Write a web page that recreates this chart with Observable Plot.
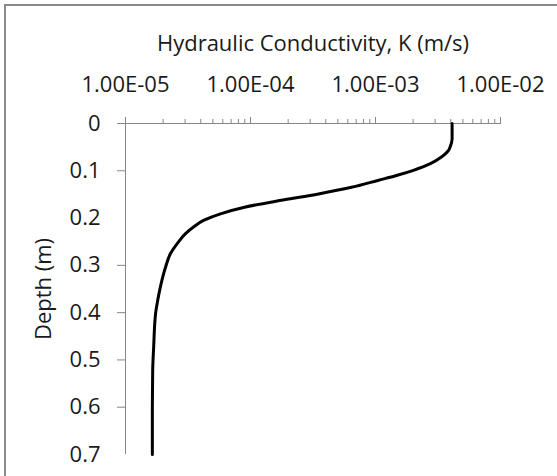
<!DOCTYPE html>
<html>
<head>
<meta charset="utf-8">
<script src="https://cdn.jsdelivr.net/npm/d3@7"></script>
<script src="https://cdn.jsdelivr.net/npm/@observablehq/plot@0.6"></script>
<style>
  html, body { margin: 0; padding: 0; background: #fff; }
  #wrap { position: relative; width: 557px; height: 476px; overflow: hidden; }
  #border { position: absolute; left: 4px; top: 4px; width: 700px; height: 700px;
            border-left: 2px solid #8a8a8a; border-top: 2px solid #8a8a8a; pointer-events: none; }
</style>
</head>
<body>
<div id="wrap"><div id="chart"></div><div id="border"></div></div>
<script>
// Depth (m) and hydraulic conductivity K (m/s)
const depth = [0, 0.032, 0.05, 0.057, 0.071, 0.085, 0.099, 0.11, 0.12, 0.135, 0.149, 0.163, 0.177, 0.191, 0.205, 0.219, 0.233, 0.254, 0.275, 0.304, 0.346, 0.374, 0.402, 0.473, 0.522, 0.6, 0.7];
const conductivity = [4.1e-3, 4.1e-3, 3.95e-3, 3.84e-3, 3.37e-3, 2.75e-3, 2.01e-3, 1.47e-3, 1.06e-3, 6.43e-4, 3.5e-4, 1.71e-4, 8.95e-5, 5.75e-5, 4.21e-5, 3.5e-5, 3.02e-5, 2.59e-5, 2.29e-5, 2.09e-5, 1.9e-5, 1.81e-5, 1.74e-5, 1.68e-5, 1.65e-5, 1.64e-5, 1.64e-5];

const xMajor = [1e-5, 1e-4, 1e-3, 1e-2];
const xTickLabels = ["1.00E-05", "1.00E-04", "1.00E-03", "1.00E-02"];
const yTicks = [0, 0.1, 0.2, 0.3, 0.4, 0.5, 0.6, 0.7];
const yTickLabels = ["0", "0.1", "0.2", "0.3", "0.4", "0.5", "0.6", "0.7"];
const yTickMarks = [0, 0.1, 0.3, 0.4, 0.5, 0.6];
const title = "Hydraulic Conductivity, K (m/s)";
const yTitle = "Depth (m)";

const xMinor = [];
for (const dec of [1e-5, 1e-4, 1e-3]) for (let k = 2; k <= 9; k++) xMinor.push(k * dec);

const data = depth.map((d, i) => ({depth: d, K: conductivity[i]}));
const axisColor = "#868686";
const textColor = "#1a1a1a";
const fs = 22;

const chart = Plot.plot({
  width: 557,
  height: 476,
  marginLeft: 125,
  marginRight: 57,
  marginTop: 123,
  marginBottom: 22,
  style: {fontFamily: "'Open Sans', sans-serif", fontSize: fs + "px", color: textColor, background: "transparent"},
  x: {type: "log", domain: [1e-5, 1e-2]},
  y: {domain: [0, 0.7], reverse: true},
  marks: [
    Plot.ruleY([0], {stroke: axisColor, strokeWidth: 1}),
    Plot.ruleX([1e-5], {stroke: axisColor, strokeWidth: 1}),
    Plot.axisX(xMinor, {anchor: "top", tickSize: 5, fill: "none", stroke: axisColor, label: null}),
    Plot.axisX(xMajor, {anchor: "top", tickSize: 7, fill: "none", stroke: axisColor, label: null}),
    Plot.axisX(xMajor, {anchor: "top", tickSize: 0, tickPadding: 32, fontSize: fs, fill: textColor,
      tickFormat: d => xTickLabels[xMajor.indexOf(d)], label: null}),
    Plot.axisY(yTickMarks, {anchor: "left", tickSize: 8, fill: "none", stroke: axisColor, label: null}),
    Plot.axisY(yTicks, {anchor: "left", tickSize: 0, tickPadding: 25, fontSize: fs, fill: textColor,
      tickFormat: d => yTickLabels[yTicks.indexOf(d)], label: null}),
    Plot.text([title], {text: d => d, frameAnchor: "top", dy: -73, lineAnchor: "bottom", fontSize: fs, fill: textColor}),
    Plot.text([yTitle], {text: d => d, frameAnchor: "left", dx: -82, rotate: -90, textAnchor: "middle", lineAnchor: "middle", fontSize: fs, fill: textColor}),
    Plot.line(data, {x: "K", y: "depth", stroke: "#000", strokeWidth: 3, curve: "monotone-y", strokeLinejoin: "round"})
  ]
});
document.getElementById("chart").appendChild(chart);
</script>
</body>
</html>
